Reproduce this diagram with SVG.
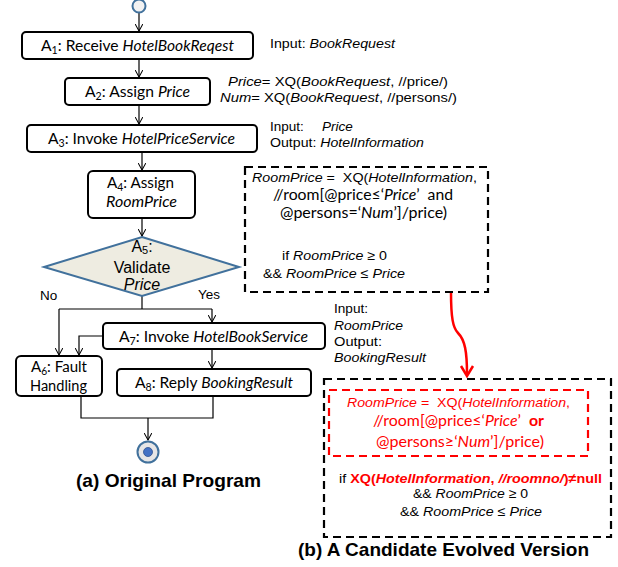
<svg xmlns="http://www.w3.org/2000/svg" width="618" height="567" viewBox="0 0 618 567">
<style>
.box{fill:#fff;stroke:#000;stroke-width:2}
.lbl{font-family:Lato,"Liberation Sans",sans-serif;font-size:15.5px;fill:#000}
.ar{font-family:"Liberation Sans",Arial,sans-serif;font-size:13.5px;fill:#000}
.i{font-style:italic}
.b{font-weight:bold}
.red{fill:#FF0000}
.sub{font-size:10.5px;baseline-shift:-3px}
.ln{fill:none;stroke:#000;stroke-width:1.2}
.dash{fill:none;stroke:#000;stroke-width:2.2;stroke-dasharray:8 5}
.rdash{fill:none;stroke:#FF0000;stroke-width:2.2;stroke-dasharray:8 5}
.cap{font-family:"Liberation Sans",Arial,sans-serif;font-size:18.5px;font-weight:bold;fill:#000}
</style>
<defs>
<marker id="arr" viewBox="0 0 10 10" refX="9" refY="5" markerWidth="8" markerHeight="8" orient="auto" markerUnits="userSpaceOnUse">
<path d="M0,0 L9,5 L0,10" fill="none" stroke="#000" stroke-width="1.3"/>
</marker>
</defs>

<g id="connectors">
<line class="ln" x1="139" y1="12" x2="139" y2="31" marker-end="url(#arr)"/>
<line class="ln" x1="139" y1="59" x2="139" y2="77" marker-end="url(#arr)"/>
<line class="ln" x1="139" y1="105" x2="139" y2="124" marker-end="url(#arr)"/>
<line class="ln" x1="142" y1="152" x2="142" y2="170" marker-end="url(#arr)"/>
<line class="ln" x1="142" y1="218" x2="142" y2="236" marker-end="url(#arr)"/>
<polyline class="ln" points="142,296 142,309"/>
<polyline class="ln" points="59,309 212,309"/>
<line class="ln" x1="59" y1="309" x2="59" y2="355" marker-end="url(#arr)"/>
<line class="ln" x1="212" y1="309" x2="212" y2="322" marker-end="url(#arr)"/>
<polyline class="ln" points="103,336 79,336 79,355" marker-end="url(#arr)"/>
<line class="ln" x1="212" y1="349" x2="212" y2="368" marker-end="url(#arr)"/>
<polyline class="ln" points="81,396 81,418 213,418 213,396"/>
<line class="ln" x1="148" y1="418" x2="148" y2="440" marker-end="url(#arr)"/>
<path d="M451,292 C451,318 453,328 458,333 C465,340 467,352 467,374" fill="none" stroke="#FF0000" stroke-width="2.5"/>
<polyline points="461,366 467,376 473,366" fill="none" stroke="#FF0000" stroke-width="2.5"/>
</g>

<g id="start">
<circle cx="139" cy="6" r="6.5" fill="#F2F2F2" stroke="#41719C" stroke-width="2"/>
</g>

<g id="A1">
<rect class="box" x="22" y="32" width="231" height="27" rx="4"/>
<text class="lbl" x="137.5" y="51" text-anchor="middle" textLength="193" lengthAdjust="spacingAndGlyphs">A<tspan class="sub">1</tspan>: Receive <tspan class="i">HotelBookReqest</tspan></text>
</g>
<g id="A2">
<rect class="box" x="65" y="78" width="145" height="27" rx="4"/>
<text class="lbl" x="137.5" y="97" text-anchor="middle" textLength="105" lengthAdjust="spacingAndGlyphs">A<tspan class="sub">2</tspan>: Assign <tspan class="i">Price</tspan></text>
</g>
<g id="A3">
<rect class="box" x="27" y="125" width="230" height="27" rx="4"/>
<text class="lbl" x="141.5" y="144" text-anchor="middle" textLength="187" lengthAdjust="spacingAndGlyphs">A<tspan class="sub">3</tspan>: Invoke <tspan class="i">HotelPriceService</tspan></text>
</g>
<g id="A4">
<rect class="box" x="88" y="171" width="107" height="47" rx="5"/>
<text class="lbl" x="140.5" y="188" text-anchor="middle" textLength="67" lengthAdjust="spacingAndGlyphs">A<tspan class="sub">4</tspan>: Assign</text>
<text class="lbl i" x="141.5" y="207" text-anchor="middle" textLength="71" lengthAdjust="spacingAndGlyphs">RoomPrice</text>
</g>
<g id="A5">
<polygon points="142,237 239,267 142,296 44,267" fill="#EEECE1" stroke="#41719C" stroke-width="2"/>
<text x="142" y="252" text-anchor="middle" font-family="Liberation Sans,Arial,sans-serif" font-size="16">A<tspan font-size="11" baseline-shift="-2">5</tspan>:</text>
<text x="142" y="273" text-anchor="middle" font-family="Liberation Sans,Arial,sans-serif" font-size="16">Validate</text>
<text x="142" y="290" text-anchor="middle" font-family="Liberation Sans,Arial,sans-serif" font-size="16" font-style="italic">Price</text>
</g>
<text class="ar" x="40" y="300">No</text>
<text class="ar" x="198" y="299">Yes</text>
<g id="A7">
<rect class="box" x="103" y="323" width="222" height="26" rx="4"/>
<text class="lbl" x="213.5" y="342" text-anchor="middle" textLength="189" lengthAdjust="spacingAndGlyphs">A<tspan class="sub">7</tspan>: Invoke <tspan class="i">HotelBookService</tspan></text>
</g>
<g id="A6">
<rect class="box" x="16" y="356" width="86" height="40" rx="5"/>
<text class="lbl" x="59" y="372" text-anchor="middle" textLength="56" lengthAdjust="spacingAndGlyphs">A<tspan class="sub">6</tspan>: Fault</text>
<text class="lbl" x="58.5" y="391" text-anchor="middle" textLength="57" lengthAdjust="spacingAndGlyphs">Handling</text>
</g>
<g id="A8">
<rect class="box" x="117" y="369" width="194" height="27" rx="4"/>
<text class="lbl" x="214" y="388" text-anchor="middle" textLength="158" lengthAdjust="spacingAndGlyphs">A<tspan class="sub">8</tspan>: Reply <tspan class="i">BookingResult</tspan></text>
</g>
<g id="end">
<circle cx="148" cy="452" r="10.5" fill="#E7E6E6" stroke="#41719C" stroke-width="2"/>
<circle cx="148" cy="452" r="4.5" fill="#4472C4" stroke="#2F528F" stroke-width="0.8"/>
</g>

<text class="ar" x="270" y="48" textLength="125" lengthAdjust="spacingAndGlyphs">Input: <tspan class="i">BookRequest</tspan></text>
<text class="ar" x="228" y="86" textLength="220" lengthAdjust="spacingAndGlyphs"><tspan class="i">Price</tspan>= XQ(<tspan class="i">BookRequest</tspan>, //price/)</text>
<text class="ar" x="220" y="102" textLength="237" lengthAdjust="spacingAndGlyphs"><tspan class="i">Num</tspan>= XQ(<tspan class="i">BookRequest</tspan>, //persons/)</text>
<text class="ar" x="270" y="131">Input:</text>
<text class="ar i" x="322" y="131">Price</text>
<text class="ar" x="270" y="147" textLength="154" lengthAdjust="spacingAndGlyphs">Output: <tspan class="i">HotelInformation</tspan></text>

<g id="cond1">
<rect class="dash" x="245" y="167" width="243" height="125"/>
<text class="ar" x="252" y="182" textLength="225" lengthAdjust="spacingAndGlyphs"><tspan class="i">RoomPrice</tspan> =&#160; XQ(<tspan class="i">HotelInformation</tspan>,</text>
<text class="lbl" x="273" y="200" textLength="180" lengthAdjust="spacingAndGlyphs">//room[@price≤‘<tspan class="i">Price</tspan>’&#160; and</text>
<text class="lbl" x="280" y="218" textLength="167" lengthAdjust="spacingAndGlyphs">@persons=‘<tspan class="i">Num</tspan>’]/price)</text>
<text class="ar" x="282" y="260" textLength="105" lengthAdjust="spacingAndGlyphs">if <tspan class="i">RoomPrice</tspan> ≥ 0</text>
<text class="ar" x="263" y="278" textLength="142" lengthAdjust="spacingAndGlyphs">&amp;&amp; <tspan class="i">RoomPrice</tspan> ≤ <tspan class="i">Price</tspan></text>
</g>

<text class="ar" x="334" y="313" textLength="34" lengthAdjust="spacingAndGlyphs">Input:</text>
<text class="ar i" x="334" y="330" textLength="69" lengthAdjust="spacingAndGlyphs">RoomPrice</text>
<text class="ar" x="334" y="346" textLength="48" lengthAdjust="spacingAndGlyphs">Output:</text>
<text class="ar i" x="334" y="362" textLength="92" lengthAdjust="spacingAndGlyphs">BookingResult</text>

<g id="cond2">
<rect class="dash" x="324" y="379" width="287" height="158"/>
<rect class="rdash" x="329" y="390" width="259" height="66"/>
<text class="ar red" x="347" y="407" textLength="223" lengthAdjust="spacingAndGlyphs"><tspan class="i">RoomPrice</tspan> =&#160; XQ(<tspan class="i">HotelInformation</tspan>,</text>
<text class="lbl red" x="373" y="426" textLength="171" lengthAdjust="spacingAndGlyphs">//room[@price≤‘<tspan class="i">Price</tspan>’&#160; <tspan class="b">or</tspan></text>
<text class="lbl red" x="376" y="447" textLength="168" lengthAdjust="spacingAndGlyphs">@persons≥‘<tspan class="i">Num</tspan>’]/price)</text>
<text class="ar" x="339" y="483" textLength="263" lengthAdjust="spacingAndGlyphs">if <tspan class="red b">XQ(<tspan class="i">HotelInformation</tspan>, <tspan class="i">//roomno/</tspan>)≠null</tspan></text>
<text class="ar" x="413" y="498" textLength="115" lengthAdjust="spacingAndGlyphs">&amp;&amp; <tspan class="i">RoomPrice</tspan> ≥ 0</text>
<text class="ar" x="400" y="516" textLength="142" lengthAdjust="spacingAndGlyphs">&amp;&amp; <tspan class="i">RoomPrice</tspan> ≤ <tspan class="i">Price</tspan></text>
</g>

<text class="cap" x="76" y="487" textLength="185" lengthAdjust="spacingAndGlyphs">(a) Original Program</text>
<text class="cap" x="298" y="556" textLength="291" lengthAdjust="spacingAndGlyphs">(b) A Candidate Evolved Version</text>
</svg>
